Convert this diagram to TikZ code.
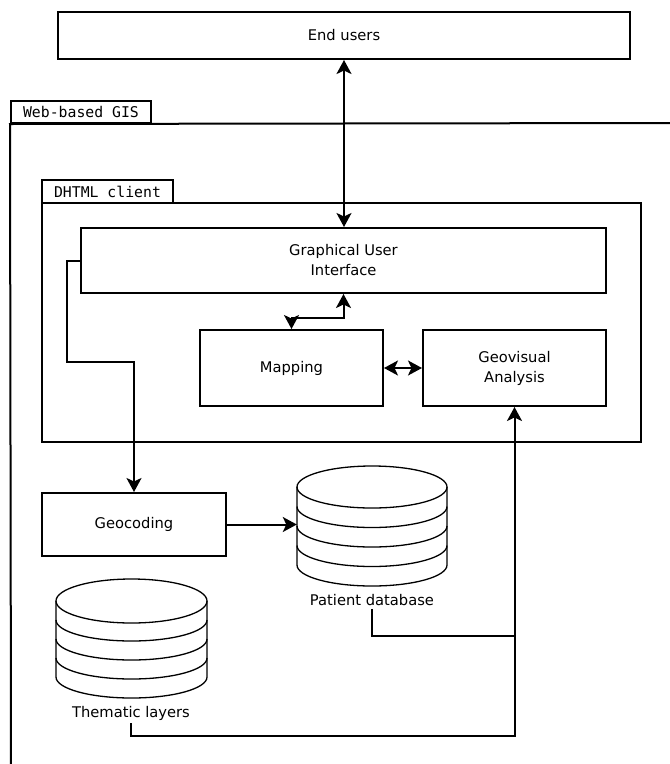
\documentclass[tikz,border=0pt]{standalone}
\usepackage{fontspec}
\setmainfont{DejaVu Sans}
\setmonofont{DejaVu Sans Mono}
\usetikzlibrary{arrows.meta,calc}
\tikzset{
  box/.style={draw, line width=2pt, inner sep=0pt, align=center, font=\fontsize{14.7}{20}\selectfont},
  tabbox/.style={draw, line width=2pt, inner sep=0pt, font=\ttfamily\fontsize{14.8}{16}\selectfont},
  frame/.style={draw, line width=2pt, inner sep=0pt},
  tip/.style={Stealth[length=14pt,width=15pt,inset=3.5pt]},
  conn/.style={line width=2pt, -{Stealth[length=14pt,width=15pt,inset=3.5pt]}},
  biconn/.style={line width=2pt, {Stealth[length=14pt,width=15pt,inset=3.5pt]}-{Stealth[length=14pt,width=15pt,inset=3.5pt]}},
  plain/.style={line width=2pt},
  cyl/.style={line width=1.3pt},
  lbl/.style={font=\fontsize{14.7}{16}\selectfont, inner sep=3pt}
}
\begin{document}
\begin{tikzpicture}[x=1pt,y=-1pt]
\useasboundingbox (0,0) rectangle (670,764);
\fill[white] (0,0) rectangle (670,764);

% Web-based GIS frame
\node[tabbox, minimum width=140pt, minimum height=22pt] (webtab) at (81,112) {Web-based GIS};
\coordinate (webtr) at (672,123);
\coordinate (webbl) at (11,766);
\draw[plain] (webtr) -- (webtab.south west) -- (webbl);

% DHTML client
\node[tabbox, minimum width=131pt, minimum height=23pt] (dhtmltab) at (107.5,191.5) {DHTML client};
\node[frame, minimum width=599pt, minimum height=239pt] (dhtml) at (341.5,322.5) {};

% boxes
\node[box, minimum width=572pt, minimum height=47pt] (end) at (344,35.5) {End users};
\node[box, minimum width=525pt, minimum height=65pt] (gui) at (343.5,260.5) {Graphical User\\Interface};
\node[box, minimum width=183pt, minimum height=76pt] (map) at (291.5,368) {Mapping};
\node[box, minimum width=183pt, minimum height=76pt] (geo) at (514.5,368) {Geovisual\\Analysis};
\node[box, minimum width=184pt, minimum height=63pt] (geoc) at (134,524.5) {Geocoding};

% patient database cylinder
\node[minimum width=150pt, minimum height=120pt, inner sep=0pt] (pdb) at (372,525.5) {};
\draw[cyl] (297,487) arc[start angle=180, end angle=-180, x radius=75pt, y radius=21pt];
\draw[cyl] (447,487) -- (447,565) arc[start angle=0, end angle=-180, x radius=75pt, y radius=21pt] -- (297,487);
\foreach \yy in {506.5,526,545.5}
  \draw[cyl] (297,\yy) arc[start angle=180, end angle=360, x radius=75pt, y radius=21pt];
\node[lbl] (plabel) at (372,600) {Patient database};

% thematic layers cylinder
\node[minimum width=151pt, minimum height=119pt, inner sep=0pt] (tdb) at (131.5,637.5) {};
\draw[cyl] (56,601) arc[start angle=180, end angle=-180, x radius=75.5pt, y radius=22pt];
\draw[cyl] (207,601) -- (207,677) arc[start angle=0, end angle=-180, x radius=75.5pt, y radius=21pt] -- (56,601);
\foreach \yy in {620,639,658}
  \draw[cyl] (56,\yy) arc[start angle=180, end angle=360, x radius=75.5pt, y radius=21pt];
\node[lbl] (tlabel) at (131,713) {Thematic layers};

% connectors
\draw[biconn] (end.south) -- (gui.north -| end.south);
\draw[biconn] (gui.south) -- ++(0,24) -| (map.north);
\draw[biconn] (map.east) -- (geo.west);
\draw[conn] (gui.west) -- ++(-13,0) -- ++(0,101) -| (geoc.north);
\draw[conn] (geoc.east) -- (geoc.east -| pdb.west);
\coordinate (pjoin) at (514.5,636);
\coordinate (tjoin) at (514.5,736);
\draw[plain] (plabel.south) |- (pjoin);
\draw[conn] (pjoin) -- (geo.south);
\draw[plain] (tlabel.south) |- (tjoin) -- (pjoin);
\end{tikzpicture}
\end{document}
